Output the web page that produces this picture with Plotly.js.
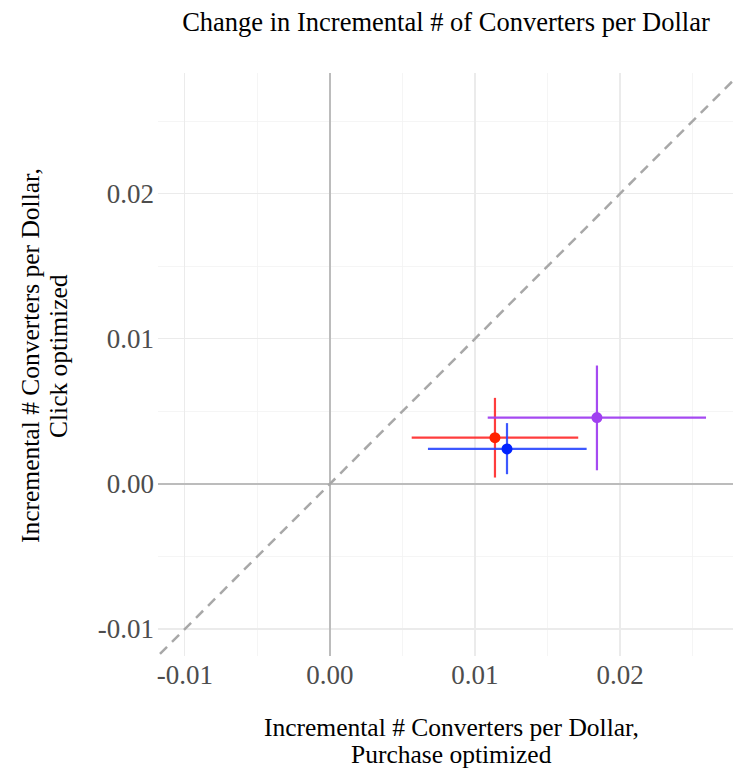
<!DOCTYPE html>
<html>
<head>
<meta charset="utf-8">
<script src="https://cdn.plot.ly/plotly-3.0.1.min.js"></script>
<style>
html,body{margin:0;padding:0;background:#fff;}
#chart{width:733px;height:770px;}
</style>
</head>
<body>
<div id="chart"></div>
<script>
// ---- data ----
var groups = ["A", "B", "C"];
var xVals  = [0.01138, 0.01221, 0.01841];
var yVals  = [0.00319, 0.00241, 0.00457];
var xLow   = [0.00564, 0.00676, 0.01088];
var xHigh  = [0.01712, 0.01770, 0.02593];
var yLow   = [0.00044, 0.00067, 0.00094];
var yHigh  = [0.00593, 0.00419, 0.00816];
var diagLine = [-0.02, 0.03];
var xTickVals = [-0.01, 0.00, 0.01, 0.02];
var xTickText = ["-0.01", "0.00", "0.01", "0.02"];
var yTickVals = [-0.01, 0.00, 0.01, 0.02];
var yTickText = ["-0.01", "0.00", "0.01", "0.02"];
var titleText = "Change in Incremental # of Converters per Dollar";
var xTitleLines = ["Incremental # Converters per Dollar,", "Purchase optimized"];
var yTitleLines = ["Incremental # Converters per Dollar,", "Click optimized"];

// ---- styles ----
var pointColors = ["#ff2200", "#0022ff", "#a040f0"];
var barColors = ["rgba(255,40,40,0.9)", "rgba(40,70,255,0.9)", "rgba(160,64,240,0.95)"];
var FONT = "Liberation Serif, Times New Roman, serif";

var traces = [{
  x: diagLine, y: diagLine, mode: "lines", type: "scatter",
  line: {color: "#a8a8a8", width: 2.5, dash: "10px,7px"},
  hoverinfo: "skip", showlegend: false
}];
for (var i = 0; i < groups.length; i++) {
  traces.push({
    x: [xVals[i]], y: [yVals[i]], type: "scatter", mode: "markers", name: groups[i],
    marker: {color: pointColors[i], size: 11},
    error_x: {type: "data", symmetric: false, array: [xHigh[i] - xVals[i]], arrayminus: [xVals[i] - xLow[i]],
              color: barColors[i], thickness: 2.2, width: 0},
    error_y: {type: "data", symmetric: false, array: [yHigh[i] - yVals[i]], arrayminus: [yVals[i] - yLow[i]],
              color: barColors[i], thickness: 2.2, width: 0},
    showlegend: false
  });
}

var axisCommon = {
  showline: false, ticks: "", zeroline: true, zerolinecolor: "#bcbcbc", zerolinewidth: 1.5,
  showgrid: true, gridcolor: "#ebebeb", gridwidth: 1.2,
  minor: {dtick: 0.005, showgrid: true, gridcolor: "#f3f3f3", gridwidth: 0.8},
  tickfont: {family: FONT, size: 27, color: "#4d4d4d"}
};

var L = 158, W = 575, T = 73, H = 583;
function px(xp) { return (xp - L) / W; }
function py(yp) { return 1 - (yp - T) / H; }
var tFont = {family: FONT, size: 25.5, color: "#000"};

var annotations = [
  {text: xTitleLines[0], xref: "paper", yref: "paper", x: px(451), y: py(727), xanchor: "center", yanchor: "middle", showarrow: false, font: tFont},
  {text: xTitleLines[1], xref: "paper", yref: "paper", x: px(451), y: py(754), xanchor: "center", yanchor: "middle", showarrow: false, font: tFont},
  {text: yTitleLines[0], xref: "paper", yref: "paper", x: px(30), y: py(356), xanchor: "center", yanchor: "middle", textangle: -90, showarrow: false, font: tFont},
  {text: yTitleLines[1], xref: "paper", yref: "paper", x: px(58), y: py(356), xanchor: "center", yanchor: "middle", textangle: -90, showarrow: false, font: tFont}
];

var layout = {
  width: 733, height: 770,
  margin: {l: L, r: 0, t: T, b: 770 - T - H},
  paper_bgcolor: "#fff", plot_bgcolor: "#fff",
  font: {family: FONT},
  title: {text: titleText, font: {family: FONT, size: 26.5, color: "#000"},
          x: px(446), xref: "paper", xanchor: "center", y: 0.972, yref: "container", yanchor: "middle"},
  xaxis: Object.assign({}, axisCommon, {
    range: [-0.01185, 0.02779], tickvals: xTickVals, ticktext: xTickText
  }),
  yaxis: Object.assign({}, axisCommon, {
    range: [-0.01186, 0.02832], tickvals: yTickVals, ticktext: yTickText, ticklabelstandoff: 3
  }),
  annotations: annotations
};

Plotly.newPlot("chart", traces, layout, {displayModeBar: false, staticPlot: true});
</script>
</body>
</html>
